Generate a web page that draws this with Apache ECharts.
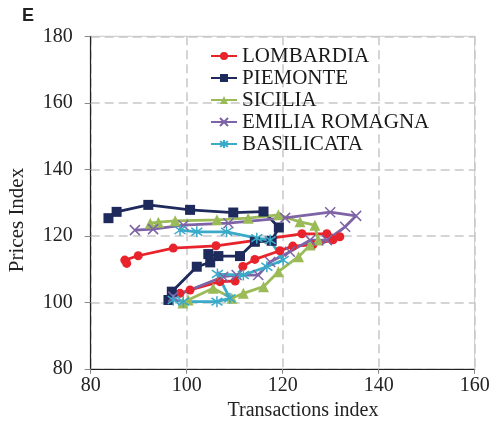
<!DOCTYPE html>
<html>
<head>
<meta charset="utf-8">
<script src="https://cdn.jsdelivr.net/npm/echarts@6/dist/echarts.min.js"></script>
<style>
  html, body { margin: 0; padding: 0; background: #fff; }
  #chart { width: 493px; height: 428px; }
</style>
</head>
<body>
<div id="chart"></div>
<script>
// Region paths: transactions index (x) vs prices index (y)
const regionNames = ['LOMBARDIA', 'PIEMONTE', 'SICILIA', 'EMILIA ROMAGNA', 'BASILICATA'];

const lombardiaX = [87.5, 87.1, 89.9, 97.2, 106.1, 124.0, 129.2, 131.9, 130.5, 126.3, 122.1, 119.4, 114.2, 111.7, 110.1, 106.9, 100.7, 98.6];
const lombardiaY = [111.7, 112.7, 114.0, 116.3, 117.0, 120.6, 120.6, 119.7, 118.8, 117.3, 116.9, 115.5, 112.9, 110.8, 106.4, 106.2, 103.7, 102.7];

const piemonteX = [83.7, 85.4, 92.0, 100.7, 109.7, 116.0, 119.2, 117.7, 114.2, 111.1, 106.6, 104.5, 104.9, 102.1, 96.9, 96.2];
const piemonteY = [125.3, 127.2, 129.3, 127.8, 127.0, 127.3, 122.5, 118.5, 118.2, 113.9, 113.9, 114.5, 112.0, 110.7, 103.2, 100.7];

const siciliaX = [92.4, 94.1, 97.6, 106.3, 112.8, 119.1, 123.6, 126.7, 127.4, 125.7, 123.3, 119.1, 116.0, 111.8, 109.4, 105.5, 100.3, 99.2];
const siciliaY = [123.8, 124.1, 124.5, 124.8, 125.3, 126.3, 124.2, 123.2, 118.7, 117.2, 113.7, 109.2, 104.7, 102.7, 101.2, 104.2, 100.7, 99.8];

const emiliaX = [89.2, 93.0, 99.3, 108.7, 120.5, 129.9, 135.3, 133.0, 129.2, 125.7, 121.5, 117.4, 114.9, 110.4, 107.6, 97.2];
const emiliaY = [121.7, 122.0, 123.2, 123.8, 125.4, 127.1, 126.0, 122.7, 118.7, 118.7, 115.2, 112.1, 108.2, 108.2, 107.7, 101.7];

const basilicataX = [98.6, 102.1, 108.3, 114.6, 117.4, 120.1, 116.7, 111.8, 106.4, 109.0, 106.3, 99.3, 97.2];
const basilicataY = [121.7, 121.2, 121.2, 119.3, 118.7, 112.7, 110.7, 108.2, 108.5, 101.2, 100.2, 100.2, 100.7];

const xTicks = [80, 100, 120, 140, 160];
const yTicks = [80, 100, 120, 140, 160, 180];

const pair = (xs, ys) => xs.map((x, i) => [x, ys[i]]);

const serif = '"Liberation Serif", "DejaVu Serif", serif';
const crossPath = 'path://M0 0L10 10M10 0L0 10';
const starPath = 'path://M5 0L5 10M0 1.5L10 8.5M10 1.5L0 8.5';

function lineSeries(name, xs, ys, color, symbol, size, stroked) {
  return {
    name: name,
    type: 'line',
    data: pair(xs, ys),
    color: color,
    symbol: symbol,
    symbolSize: size,
    showAllSymbol: true,
    lineStyle: { width: 2.8, color: color },
    itemStyle: stroked
      ? { color: color, borderColor: color, borderWidth: 1.5 }
      : { color: color },
    emphasis: { disabled: true },
    animation: false
  };
}

const chart = echarts.init(document.getElementById('chart'), null, { renderer: 'canvas' });

chart.setOption({
  backgroundColor: '#ffffff',
  animation: false,
  grid: {
    left: 90.7, right: 18.3, top: 36.3, bottom: 59.2,
    show: true, borderColor: '#c8c8c8', borderWidth: 1
  },
  graphic: [
    {
      type: 'text', left: 22, top: 7,
      style: { text: 'E', font: 'bold 18px "Liberation Sans", Arial, sans-serif', fill: '#222' }
    },
    {
      type: 'text', x: 17, y: 220, rotation: Math.PI / 2,
      style: { text: 'Prices Index', font: '21px ' + serif, fill: '#222', align: 'center', verticalAlign: 'middle' }
    },
    {
      type: 'text', x: 303, y: 411,
      style: { text: 'Transactions index', font: '20px ' + serif, fill: '#222', align: 'center', verticalAlign: 'middle' }
    }
  ],
  legend: {
    orient: 'vertical',
    left: 205, top: 40,
    itemWidth: 26, itemHeight: 10, itemGap: 0,
    data: regionNames,
    textStyle: { fontFamily: serif, fontSize: 21, color: '#1a1a1a', lineHeight: 22 }
  },
  xAxis: {
    type: 'value', min: xTicks[0], max: xTicks[xTicks.length - 1], interval: 20,
    axisLine: { show: true, onZero: false, lineStyle: { color: '#222', width: 1.2 } },
    axisTick: { show: true, length: 5, lineStyle: { color: '#888' } },
    axisLabel: { fontFamily: serif, fontSize: 20, color: '#222', margin: 7 },
    splitLine: { show: true, lineStyle: { color: '#c8c8c8', width: 1.5, type: [9, 5] } }
  },
  yAxis: {
    type: 'value', min: yTicks[0], max: yTicks[yTicks.length - 1], interval: 20,
    axisLine: { show: true, onZero: false, lineStyle: { color: '#222', width: 1.2 } },
    axisTick: { show: true, length: 6, lineStyle: { color: '#888' } },
    axisLabel: { fontFamily: serif, fontSize: 20, color: '#222', margin: 18 },
    splitLine: { show: true, lineStyle: { color: '#c8c8c8', width: 1.5, type: [9, 5] } }
  },
  series: [
    lineSeries(regionNames[0], lombardiaX, lombardiaY, '#e8232b', 'circle', 9, false),
    lineSeries(regionNames[1], piemonteX, piemonteY, '#1f2a5c', 'rect', 10, false),
    lineSeries(regionNames[2], siciliaX, siciliaY, '#9bbb59', 'triangle', 11, false),
    lineSeries(regionNames[3], emiliaX, emiliaY, '#7e63a6', crossPath, 10, true),
    lineSeries(regionNames[4], basilicataX, basilicataY, '#3aaac8', starPath, 11, true)
  ]
});
</script>
</body>
</html>
